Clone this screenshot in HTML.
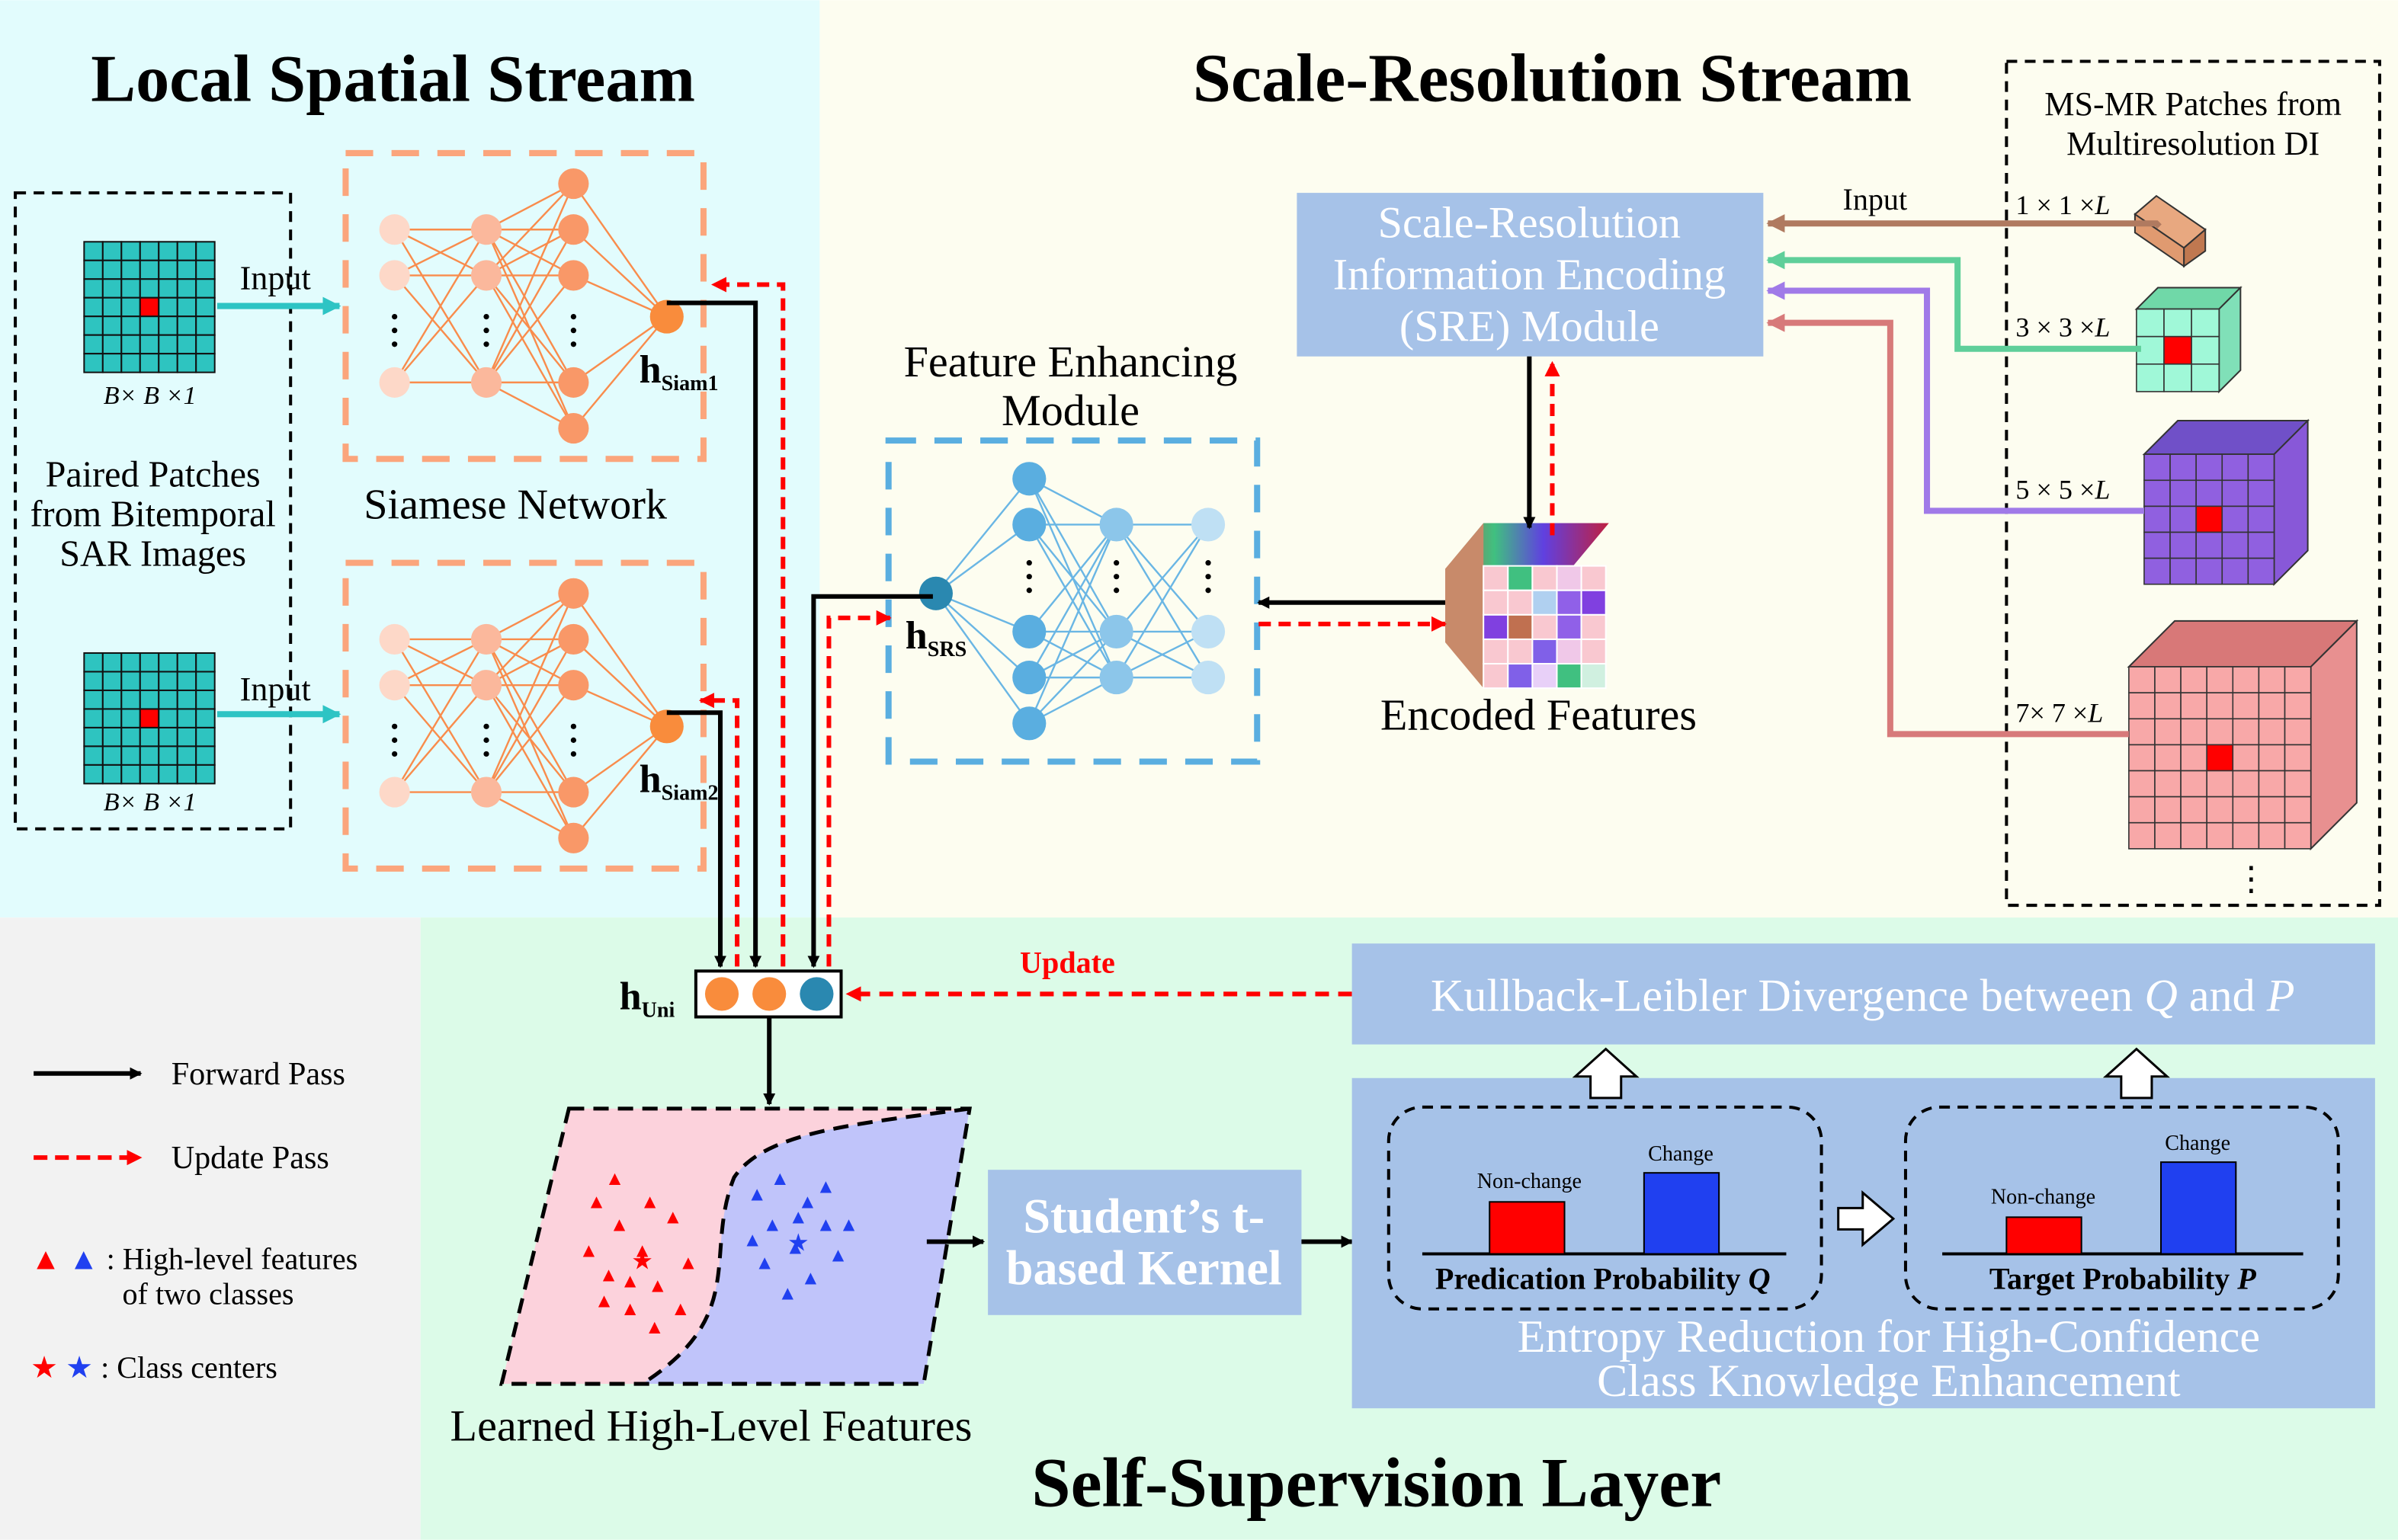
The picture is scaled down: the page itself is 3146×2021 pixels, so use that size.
<!DOCTYPE html>
<html><head><meta charset="utf-8"><style>
html,body{margin:0;padding:0;background:#fff}
svg{display:block}
text{font-family:"Liberation Serif",serif}
</style></head><body>
<svg id="s" xmlns="http://www.w3.org/2000/svg" width="3146" height="2021" viewBox="0 0 1568 1007">
<defs>
<marker id="ak" markerWidth="8" markerHeight="8" refX="7" refY="4" orient="auto" markerUnits="userSpaceOnUse"><path d="M0,0 L8,4 L0,8 z" fill="#000"/></marker>
<marker id="ar" markerWidth="10" markerHeight="10" refX="9" refY="5" orient="auto" markerUnits="userSpaceOnUse"><path d="M0,0 L10,5 L0,10 z" fill="#f00"/></marker>
<marker id="ac" markerWidth="12" markerHeight="12" refX="11" refY="6" orient="auto" markerUnits="userSpaceOnUse"><path d="M0,0 L12,6 L0,12 z" fill="#2ec4c4"/></marker>
<marker id="ab" markerWidth="12" markerHeight="12" refX="11" refY="6" orient="auto" markerUnits="userSpaceOnUse"><path d="M0,0 L12,6 L0,12 z" fill="#b07a60"/></marker>
<marker id="ag" markerWidth="12" markerHeight="12" refX="11" refY="6" orient="auto" markerUnits="userSpaceOnUse"><path d="M0,0 L12,6 L0,12 z" fill="#5fcf9a"/></marker>
<marker id="ap" markerWidth="12" markerHeight="12" refX="11" refY="6" orient="auto" markerUnits="userSpaceOnUse"><path d="M0,0 L12,6 L0,12 z" fill="#a07ae8"/></marker>
<marker id="aq" markerWidth="12" markerHeight="12" refX="11" refY="6" orient="auto" markerUnits="userSpaceOnUse"><path d="M0,0 L12,6 L0,12 z" fill="#d77a7a"/></marker>
<linearGradient id="rb" x1="0" x2="1"><stop offset="0" stop-color="#b06050"/><stop offset="0.3" stop-color="#40c080"/><stop offset="0.6" stop-color="#6040e0"/><stop offset="1" stop-color="#c02040"/></linearGradient>
</defs>
<rect x="0" y="0" width="536" height="600" fill="#e2fcfd"/>
<rect x="536" y="0" width="1032" height="600" fill="#fdfdf0"/>
<rect x="0" y="600" width="275" height="407" fill="#f2f2f2"/>
<rect x="275" y="600" width="1293" height="407" fill="#dcfbe8"/>
<text x="257" y="66" font-size="44" font-weight="bold" text-anchor="middle">Local Spatial Stream</text>
<text x="1015" y="66" font-size="45" font-weight="bold" text-anchor="middle">Scale-Resolution Stream</text>
<text x="900" y="985" font-size="46" font-weight="bold" text-anchor="middle">Self-Supervision Layer</text>

<rect x="10" y="126" width="180" height="416" fill="none" stroke="#000" stroke-width="2" stroke-dasharray="7,5"/>
<g id="grids"></g>
<text x="98" y="264" font-size="17" text-anchor="middle" font-style="italic">B× B ×1</text>
<text x="98" y="530" font-size="17" text-anchor="middle" font-style="italic">B× B ×1</text>
<text x="100" y="318" font-size="24" text-anchor="middle">Paired Patches</text>
<text x="100" y="344" font-size="24" text-anchor="middle">from Bitemporal</text>
<text x="100" y="370" font-size="24" text-anchor="middle">SAR Images</text>
<line x1="142" y1="200" x2="222" y2="200" stroke="#2ec4c4" stroke-width="4" marker-end="url(#ac)"/>
<line x1="142" y1="467" x2="222" y2="467" stroke="#2ec4c4" stroke-width="4" marker-end="url(#ac)"/>
<text x="180" y="189" font-size="22" text-anchor="middle">Input</text>
<text x="180" y="458" font-size="22" text-anchor="middle">Input</text>

<rect x="226" y="100" width="234" height="200" fill="none" stroke="#fba57c" stroke-width="4" stroke-dasharray="18,12"/>
<rect x="226" y="368" width="234" height="200" fill="none" stroke="#fba57c" stroke-width="4" stroke-dasharray="18,12"/>
<g id="nets"></g>
<text x="337" y="339" font-size="28" text-anchor="middle">Siamese Network</text>
<text x="418" y="250" font-size="26" font-weight="bold">h<tspan font-size="14" dy="5">Siam1</tspan></text>
<text x="418" y="518" font-size="26" font-weight="bold">h<tspan font-size="14" dy="5">Siam2</tspan></text>

<text x="700" y="246" font-size="29" text-anchor="middle">Feature Enhancing</text>
<text x="700" y="278" font-size="29" text-anchor="middle">Module</text>
<rect x="581" y="288" width="241" height="210" fill="none" stroke="#5aaee0" stroke-width="4" stroke-dasharray="18,12"/>
<g id="fem"></g>
<text x="592" y="424" font-size="26" font-weight="bold">h<tspan font-size="14" dy="5">SRS</tspan></text>

<rect x="848" y="126" width="305" height="107" fill="#a6c2e8"/>
<text x="1000" y="155" font-size="29" fill="#fff" text-anchor="middle">Scale-Resolution</text>
<text x="1000" y="189" font-size="29" fill="#fff" text-anchor="middle">Information Encoding</text>
<text x="1000" y="223" font-size="29" fill="#fff" text-anchor="middle">(SRE) Module</text>

<polygon points="945,372 970,342 1052,342 1027,372" fill="url(#rb)"/>
<polygon points="945,372 970,342 970,450 945,420" fill="#c88a6a"/>
<g id="enc"></g>
<text x="1006" y="477" font-size="29" text-anchor="middle">Encoded Features</text>
<line x1="1000" y1="233" x2="1000" y2="345" stroke="#000" stroke-width="3" marker-end="url(#ak)"/>
<line x1="1015" y1="350" x2="1015" y2="237" stroke="#f00" stroke-width="3" stroke-dasharray="8,5" marker-end="url(#ar)"/>
<line x1="945" y1="394" x2="823" y2="394" stroke="#000" stroke-width="3" marker-end="url(#ak)"/>
<line x1="823" y1="408" x2="945" y2="408" stroke="#f00" stroke-width="3" stroke-dasharray="8,5" marker-end="url(#ar)"/>

<rect x="1312" y="40" width="244" height="552" fill="none" stroke="#000" stroke-width="2" stroke-dasharray="7,5"/>
<text x="1434" y="75" font-size="22" text-anchor="middle">MS-MR Patches from</text>
<text x="1434" y="101" font-size="22" text-anchor="middle">Multiresolution DI</text>
<g id="cubes"></g>
<text x="1318" y="140" font-size="18">1 × 1 ×<tspan font-style="italic">L</tspan></text>
<text x="1318" y="220" font-size="18">3 × 3 ×<tspan font-style="italic">L</tspan></text>
<text x="1318" y="326" font-size="18">5 × 5 ×<tspan font-style="italic">L</tspan></text>
<text x="1318" y="472" font-size="18">7× 7 ×<tspan font-style="italic">L</tspan></text>
<text x="1472" y="582" font-size="22" text-anchor="middle">⋮</text>
<text x="1226" y="137" font-size="20" text-anchor="middle">Input</text>
<polyline points="1412,148 1410,146 1156,146" fill="none" stroke="#b07a60" stroke-width="4" marker-end="url(#ab)"/>
<polyline points="1400,228 1280,228 1280,170 1156,170" fill="none" stroke="#5fcf9a" stroke-width="4" marker-end="url(#ag)"/>
<polyline points="1402,334 1260,334 1260,190 1156,190" fill="none" stroke="#a07ae8" stroke-width="4" marker-end="url(#ap)"/>
<polyline points="1392,480 1236,480 1236,211 1156,211" fill="none" stroke="#d77a7a" stroke-width="4" marker-end="url(#aq)"/>

<polyline points="436,198 494,198 494,632" fill="none" stroke="#000" stroke-width="3" marker-end="url(#ak)"/>
<polyline points="512,632 512,186 466,186" fill="none" stroke="#f00" stroke-width="3" stroke-dasharray="8,5" marker-end="url(#ar)"/>
<polyline points="436,466 471,466 471,632" fill="none" stroke="#000" stroke-width="3" marker-end="url(#ak)"/>
<polyline points="482,632 482,458 458,458" fill="none" stroke="#f00" stroke-width="3" stroke-dasharray="8,5" marker-end="url(#ar)"/>
<polyline points="610,390 532,390 532,632" fill="none" stroke="#000" stroke-width="3" marker-end="url(#ak)"/>
<polyline points="542,632 542,404 582,404" fill="none" stroke="#f00" stroke-width="3" stroke-dasharray="8,5" marker-end="url(#ar)"/>

<rect x="455" y="635" width="95" height="30" fill="#fff" stroke="#000" stroke-width="2"/>
<circle cx="472" cy="650" r="11" fill="#f98c3c"/>
<circle cx="503" cy="650" r="11" fill="#f98c3c"/>
<circle cx="534" cy="650" r="11" fill="#2a88b0"/>
<text x="405" y="660" font-size="26" font-weight="bold">h<tspan font-size="14" dy="5">Uni</tspan></text>
<line x1="884" y1="650" x2="554" y2="650" stroke="#f00" stroke-width="3" stroke-dasharray="9,6" marker-end="url(#ar)"/>
<text x="698" y="636" font-size="20" font-weight="bold" fill="#f00" text-anchor="middle">Update</text>
<line x1="503" y1="665" x2="503" y2="722" stroke="#000" stroke-width="3" marker-end="url(#ak)"/>

<path d="M372,725 L634,725 L604,905 L328,905 Z" fill="#fcd2dc"/>
<path d="M634,725 C560,735 500,740 480,770 C460,820 490,860 420,905 L604,905 Z" fill="#c0c4fa"/>
<path d="M372,725 L634,725 L604,905 L328,905 Z" fill="none" stroke="#000" stroke-width="2.5" stroke-dasharray="10,6"/>
<path d="M634,725 C560,735 500,740 480,770 C460,820 490,860 420,905" fill="none" stroke="#000" stroke-width="2.5" stroke-dasharray="10,6"/>
<g id="pts"></g>
<text x="465" y="942" font-size="29" text-anchor="middle">Learned High-Level Features</text>
<line x1="606" y1="812" x2="643" y2="812" stroke="#000" stroke-width="3" marker-end="url(#ak)"/>

<rect x="646" y="765" width="205" height="95" fill="#a6c2e8"/>
<text x="748" y="806" font-size="32" font-weight="bold" fill="#fff" text-anchor="middle">Student’s t-</text>
<text x="748" y="840" font-size="32" font-weight="bold" fill="#fff" text-anchor="middle">based Kernel</text>
<line x1="851" y1="812" x2="884" y2="812" stroke="#000" stroke-width="3" marker-end="url(#ak)"/>

<rect x="884" y="617" width="669" height="66" fill="#a6c2e8"/>
<text x="1218" y="661" font-size="30" fill="#fff" text-anchor="middle">Kullback-Leibler Divergence between <tspan font-style="italic">Q</tspan> and <tspan font-style="italic">P</tspan></text>
<rect x="884" y="705" width="669" height="216" fill="#a6c2e8"/>
<path d="M1040,718 L1040,704 L1030,704 L1050,686 L1070,704 L1060,704 L1060,718 Z" fill="#fff" stroke="#000" stroke-width="1.5"/>
<path d="M1387,718 L1387,704 L1377,704 L1397,686 L1417,704 L1407,704 L1407,718 Z" fill="#fff" stroke="#000" stroke-width="1.5"/>
<rect x="908" y="724" width="283" height="132" rx="22" fill="none" stroke="#000" stroke-width="2" stroke-dasharray="7,5"/>
<rect x="1246" y="724" width="283" height="132" rx="22" fill="none" stroke="#000" stroke-width="2" stroke-dasharray="7,5"/>
<line x1="930" y1="820" x2="1168" y2="820" stroke="#000" stroke-width="2"/>
<rect x="974" y="786" width="49" height="34" fill="#f00" stroke="#000"/>
<rect x="1075" y="767" width="49" height="53" fill="#2040f0" stroke="#000"/>
<text x="1000" y="777" font-size="14" text-anchor="middle" font-family="Liberation Sans">Non-change</text>
<text x="1099" y="759" font-size="14" text-anchor="middle" font-family="Liberation Sans">Change</text>
<text x="1048" y="843" font-size="20" font-weight="bold" text-anchor="middle">Predication Probability <tspan font-style="italic">Q</tspan></text>
<line x1="1270" y1="820" x2="1506" y2="820" stroke="#000" stroke-width="2"/>
<rect x="1312" y="796" width="49" height="24" fill="#f00" stroke="#000"/>
<rect x="1413" y="760" width="49" height="60" fill="#2040f0" stroke="#000"/>
<text x="1336" y="787" font-size="14" text-anchor="middle" font-family="Liberation Sans">Non-change</text>
<text x="1437" y="752" font-size="14" text-anchor="middle" font-family="Liberation Sans">Change</text>
<text x="1388" y="843" font-size="20" font-weight="bold" text-anchor="middle">Target Probability <tspan font-style="italic">P</tspan></text>
<path d="M1202,790 L1218,790 L1218,780 L1238,797 L1218,814 L1218,804 L1202,804 Z" fill="#fff" stroke="#000" stroke-width="1.5"/>
<text x="1235" y="884" font-size="30" fill="#fff" text-anchor="middle">Entropy Reduction for High-Confidence</text>
<text x="1235" y="913" font-size="30" fill="#fff" text-anchor="middle">Class Knowledge Enhancement</text>

<line x1="22" y1="702" x2="92" y2="702" stroke="#000" stroke-width="3" marker-end="url(#ak)"/>
<text x="112" y="709" font-size="21">Forward Pass</text>
<line x1="22" y1="757" x2="92" y2="757" stroke="#f00" stroke-width="3" stroke-dasharray="9,5" marker-end="url(#ar)"/>
<text x="112" y="764" font-size="21">Update Pass</text>
<text x="20" y="830" font-size="20"><tspan fill="#f00">▲</tspan> <tspan fill="#2040f0">▲</tspan> : High-level  features</text>
<text x="80" y="853" font-size="20">of two classes</text>
<text x="20" y="901" font-size="20"><tspan fill="#f00">★</tspan> <tspan fill="#2040f0">★</tspan> : Class centers</text>
</svg>
<script>
var S="http://www.w3.org/2000/svg";
function el(p,t,a){var e=document.createElementNS(S,t);for(var k in a)e.setAttribute(k,a[k]);document.getElementById(p).appendChild(e);return e;}
[[55,158],[55,427]].forEach(function(g){var c=12.2;for(var i=0;i<7;i++)for(var j=0;j<7;j++){var ctr=(i==3&&j==3);el("grids","rect",{x:g[0]+i*c,y:g[1]+j*c,width:c,height:c,fill:ctr?"#f00":"#2ec4c0",stroke:"#111","stroke-width":1});}});
function net(oy){var L=[[258,[150,180,250]],[318,[150,180,250]],[375,[120,150,180,250,280]],[436,[207]]];
 var cols=["#fdd8c8","#fbb89c","#f99868","#f98c3c"];
 for(var l=0;l<3;l++)for(var a of L[l][1])for(var b of L[l+1][1])el("nets","line",{x1:L[l][0],y1:a+oy,x2:L[l+1][0],y2:b+oy,stroke:"#f98c4c","stroke-width":1.2});
 for(var l=0;l<4;l++)for(var a of L[l][1])el("nets","circle",{cx:L[l][0],cy:a+oy,r:l==3?11:10,fill:cols[l]});
 [258,318,375].forEach(function(x){for(var d=0;d<3;d++)el("nets","circle",{cx:x,cy:207+oy+d*9,r:1.8,fill:"#000"});});}
net(0);net(268);
(function(){var L=[[612,[388]],[673,[313,343,413,443,473]],[730,[343,413,443]],[790,[343,413,443]]];
 var col=["#2a88b0","#5aaee0","#8cc6ea","#bfe0f4"];
 for(var l=0;l<3;l++)for(var a of L[l][1])for(var b of L[l+1][1])el("fem","line",{x1:L[l][0],y1:a,x2:L[l+1][0],y2:b,stroke:"#6ab6e4","stroke-width":1.2});
 for(var l=0;l<4;l++)for(var a of L[l][1])el("fem","circle",{cx:L[l][0],cy:a,r:11,fill:col[l]});
 [673,730,790].forEach(function(x){for(var d=0;d<3;d++)el("fem","circle",{cx:x,cy:368+d*9,r:1.8,fill:"#000"});});})();
(function(){var cs=["#f9c8d0","#e8d0f8","#9060e8","#f9c8d0","#c8b0f0","#f0c8e8","#8040e0","#40c080","#40c080","#f9c8d0","#f9c8d0","#f0a0b0","#f9c8d0","#c07050","#f9c8d0","#d0f0e0","#f9c8d0","#b0d0f0","#f0c8e8","#8060e8","#f9c8d0","#f0c8e8","#e8d0f8","#8060e8","#9060e8"];var c=16;
 for(var i=0;i<5;i++)for(var j=0;j<5;j++)el("enc","rect",{x:970+i*c,y:370+j*c,width:c,height:c,fill:cs[(i*7+j*3)%25],stroke:"#fff","stroke-width":1});})();
function cube(x,y,n,c,d,front,top,side){var w=n*c;
 el("cubes","polygon",{points:[x,y,x+d,y-d,x+d+w,y-d,x+w,y].join(","),fill:top,stroke:"#333"});
 el("cubes","polygon",{points:[x+w,y,x+w+d,y-d,x+w+d,y+w-d,x+w,y+w].join(","),fill:side,stroke:"#333"});
 for(var i=0;i<n;i++)for(var j=0;j<n;j++){var ctr=(i==(n-1)/2&&j==(n-1)/2)&&n>1;el("cubes","rect",{x:x+i*c,y:y+j*c,width:c,height:c,fill:ctr?"#f00":front,stroke:"#333","stroke-width":0.8});}}
(function(){el("cubes","polygon",{points:"1396,140 1410,128 1442,150 1428,162",fill:"#e8a880",stroke:"#333"});
 el("cubes","polygon",{points:"1428,162 1442,150 1442,164 1428,174",fill:"#c07850",stroke:"#333"});
 el("cubes","polygon",{points:"1396,140 1428,162 1428,174 1396,152",fill:"#e09a70",stroke:"#333"});})();
cube(1397,202,3,18,14,"#a0f8d8","#70d8a8","#80e0b8");
cube(1402,297,5,17,22,"#9060e0","#7050c8","#8858d8");
cube(1392,436,7,17,30,"#f8a8a8","#d87878","#e89090");
(function(){var r=[[390,790],[405,805],[420,822],[398,838],[430,845],[412,860],[385,822],[440,800],[450,830],[425,790],[402,775],[445,860],[395,855],[428,872],[412,842]];
 r.forEach(function(p){el("pts","text",{x:p[0],y:p[1],"font-size":13,fill:"#f00","text-anchor":"middle"}).textContent="▲";});
 el("pts","text",{x:420,y:830,"font-size":16,fill:"#f00","text-anchor":"middle"}).textContent="★";
 var b=[[495,785],[510,775],[528,790],[540,805],[505,805],[520,820],[548,825],[500,830],[530,840],[515,850],[540,780],[492,815],[555,805],[522,800]];
 b.forEach(function(p){el("pts","text",{x:p[0],y:p[1],"font-size":13,fill:"#2040f0","text-anchor":"middle"}).textContent="▲";});
 el("pts","text",{x:522,y:818,"font-size":16,fill:"#2040f0","text-anchor":"middle"}).textContent="★";})();
</script>
</body></html>
